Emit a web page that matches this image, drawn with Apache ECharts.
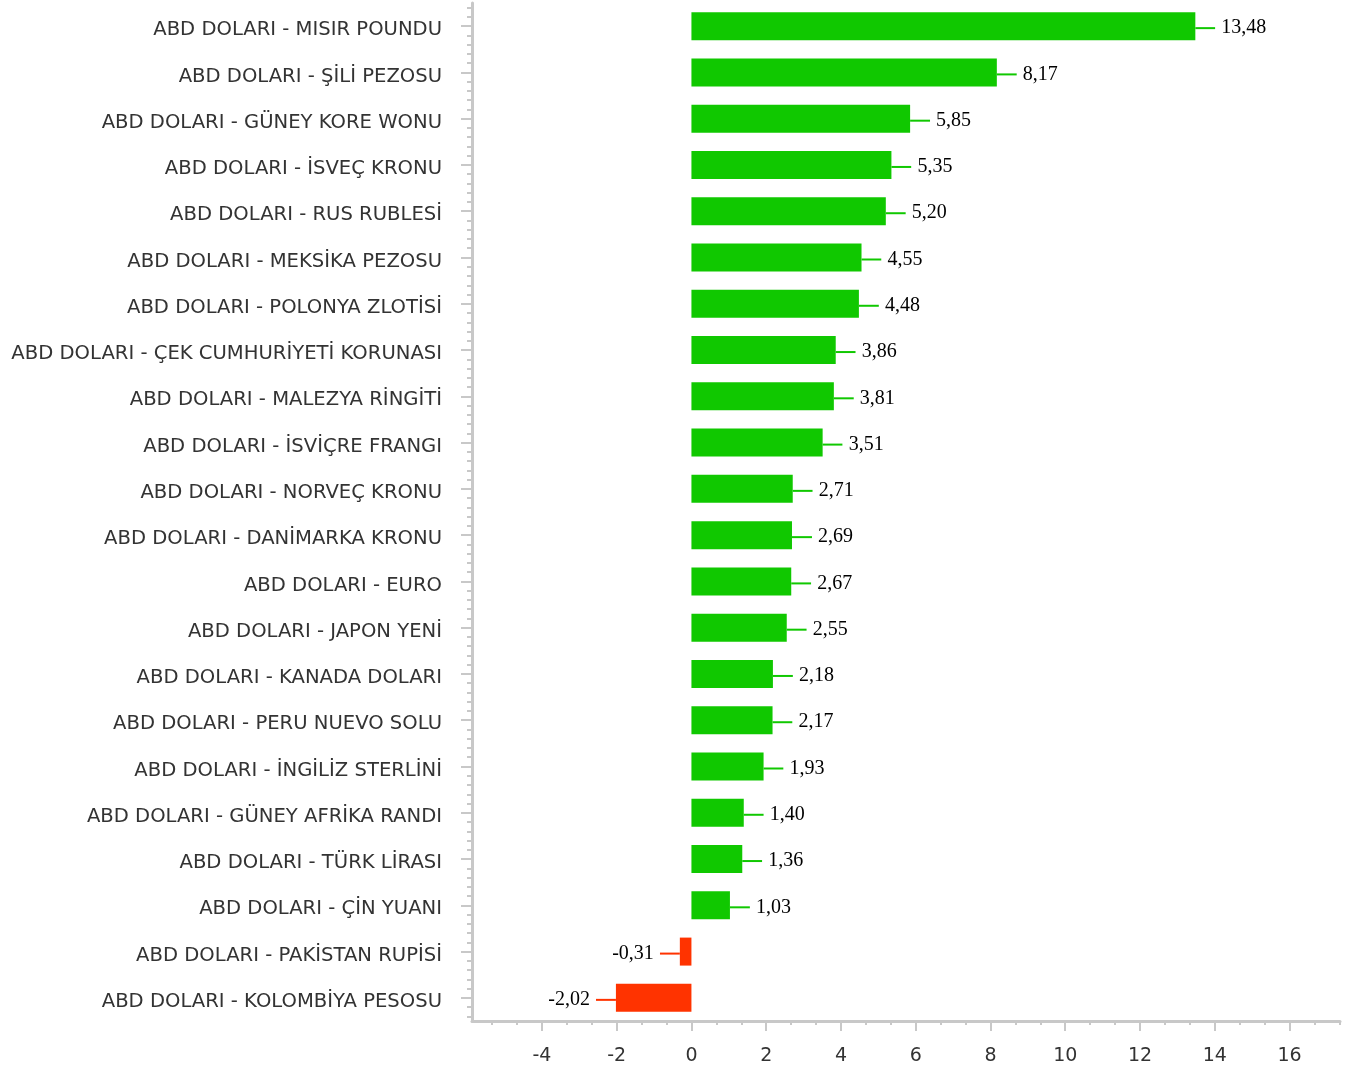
<!DOCTYPE html>
<html>
<head>
<meta charset="utf-8">
<script src="https://cdn.jsdelivr.net/npm/echarts@6/dist/echarts.min.js"></script>
<style>html,body{margin:0;padding:0;background:#fff}#c{width:1362px;height:1066px}</style>
</head>
<body>
<div id="c"></div>
<script>
const categories = [
  'ABD DOLARI - MISIR POUNDU',
  'ABD DOLARI - ŞİLİ PEZOSU',
  'ABD DOLARI - GÜNEY KORE WONU',
  'ABD DOLARI - İSVEÇ KRONU',
  'ABD DOLARI - RUS RUBLESİ',
  'ABD DOLARI - MEKSİKA PEZOSU',
  'ABD DOLARI - POLONYA ZLOTİSİ',
  'ABD DOLARI - ÇEK CUMHURİYETİ KORUNASI',
  'ABD DOLARI - MALEZYA RİNGİTİ',
  'ABD DOLARI - İSVİÇRE FRANGI',
  'ABD DOLARI - NORVEÇ KRONU',
  'ABD DOLARI - DANİMARKA KRONU',
  'ABD DOLARI - EURO',
  'ABD DOLARI - JAPON YENİ',
  'ABD DOLARI - KANADA DOLARI',
  'ABD DOLARI - PERU NUEVO SOLU',
  'ABD DOLARI - İNGİLİZ STERLİNİ',
  'ABD DOLARI - GÜNEY AFRİKA RANDI',
  'ABD DOLARI - TÜRK LİRASI',
  'ABD DOLARI - ÇİN YUANI',
  'ABD DOLARI - PAKİSTAN RUPİSİ',
  'ABD DOLARI - KOLOMBİYA PESOSU'
];
const values = [13.48, 8.17, 5.85, 5.35, 5.20, 4.55, 4.48, 3.86, 3.81, 3.51, 2.71, 2.69, 2.67, 2.55, 2.18, 2.17, 1.93, 1.40, 1.36, 1.03, -0.31, -2.02];
const xTickLabels = [-4, -2, 0, 2, 4, 6, 8, 10, 12, 14, 16];
const xMin = -5.87, xMax = 17.35;

const POS = '#10C800', NEG = '#FF3300';
const FONT = '"DejaVu Sans", sans-serif';
const AXIS_COLOR = '#c8c8c8';

// minor tick positions (x: thirds of the 2-unit major step; y: fifths of a category)
const xMinor = [];
for (let k = -8; k <= 26; k++) { const v = k * 2 / 3; if (k % 3 !== 0 && v > xMin && v < xMax) xMinor.push(v); }
const yMajor = categories.map((_, i) => i);
const yMinor = [];
for (let k = -2; k <= 21 * 5 + 2; k++) { if (k % 5 !== 0) yMinor.push(k / 5); }

const chart = echarts.init(document.getElementById('c'));
chart.setOption({
  animation: false,
  grid: { left: 472, right: 22, top: 3, bottom: 45, containLabel: false, outerBoundsMode: 'none' },
  xAxis: [
    {
      type: 'value', min: xMin, max: xMax, position: 'bottom',
      axisLine: { show: true, onZero: false, lineStyle: { color: AXIS_COLOR, width: 3 } },
      axisTick: { show: true, customValues: xTickLabels, length: 10, lineStyle: { color: AXIS_COLOR, width: 2 } },
      axisLabel: { customValues: xTickLabels, margin: 26, fontSize: 19, color: '#333', fontFamily: FONT, formatter: v => String(v) },
      splitLine: { show: false }
    },
    {
      type: 'value', min: xMin, max: xMax, position: 'bottom',
      axisLine: { show: false, onZero: false },
      axisTick: { show: true, customValues: xMinor, length: 4, lineStyle: { color: AXIS_COLOR, width: 2 } },
      axisLabel: { show: false },
      splitLine: { show: false }
    }
  ],
  yAxis: [
    {
      type: 'category', data: categories, inverse: true, position: 'left',
      axisLine: { show: false, onZero: false }, axisTick: { show: false },
      axisLabel: {
        margin: 30, fontSize: 19.6, color: '#333', fontFamily: FONT,
        formatter: v => '{a|' + v + '}',
        rich: { a: { fontSize: 19.6, color: '#333', fontFamily: FONT, padding: [8, 0, 0, 0] } }
      }
    },
    {
      type: 'value', min: -0.5, max: 21.5, inverse: true, position: 'left',
      axisLine: { show: true, onZero: false, lineStyle: { color: AXIS_COLOR, width: 3 } },
      axisTick: { show: true, customValues: yMajor, length: 11, lineStyle: { color: AXIS_COLOR, width: 2 } },
      axisLabel: { show: false }, splitLine: { show: false }
    },
    {
      type: 'value', min: -0.5, max: 21.5, inverse: true, position: 'left',
      axisLine: { show: false, onZero: false },
      axisTick: { show: true, customValues: yMinor, length: 5, lineStyle: { color: AXIS_COLOR, width: 2 } },
      axisLabel: { show: false }, splitLine: { show: false }
    }
  ],
  series: [{
    type: 'bar',
    xAxisIndex: 0, yAxisIndex: 0,
    barWidth: 28,
    data: values.map(v => ({
      value: v,
      itemStyle: { color: v >= 0 ? POS : NEG },
      label: {
        position: v >= 0 ? 'right' : 'left',
        padding: v >= 0 ? [0, 0, 0, 6] : [0, 6, 0, 0]
      },
      labelLine: { lineStyle: { color: v >= 0 ? POS : NEG } }
    })),
    label: {
      show: true, distance: 0, backgroundColor: '#fff',
      fontFamily: '"Liberation Serif", "DejaVu Serif", serif', fontSize: 20, color: '#000',
      formatter: p => p.value.toFixed(2).replace('.', ',')
    },
    labelLine: { show: true, lineStyle: { width: 2 } },
    labelLayout: p => ({ dx: values[p.dataIndex] >= 0 ? 20 : -20, dy: 2 })
  }]
});
</script>
</body>
</html>
